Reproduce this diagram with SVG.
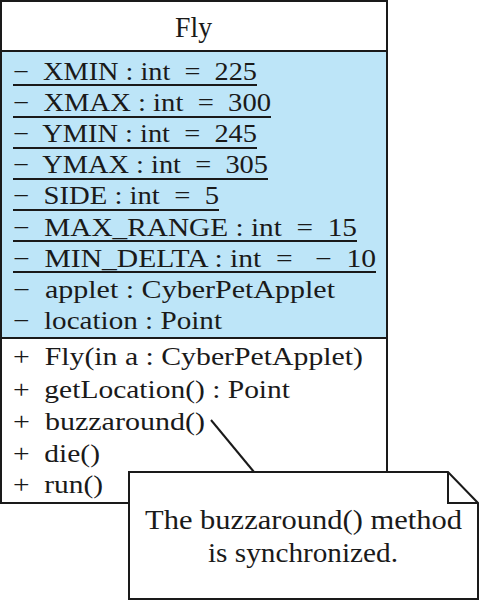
<svg xmlns="http://www.w3.org/2000/svg" width="480" height="600" viewBox="0 0 480 600">
<style>
text{font-family:"Liberation Serif","Times New Roman",serif;font-size:25px;fill:#1a1a1a;white-space:pre;}
text.title{font-size:29px;}
text.note{font-size:28px;}
.ul{stroke:#1a1a1a;stroke-width:2;}
.bx{stroke:#1a1a1a;stroke-width:2;}
</style>
<rect width="480" height="600" fill="#ffffff"/>
<g id="class-Fly">
<rect x="1" y="1" width="386" height="502" fill="#ffffff" class="bx"/>
<rect x="1" y="51" width="386" height="287" fill="#bde5f8" class="bx"/>
<text class="title" x="175" y="37" textLength="37" lengthAdjust="spacingAndGlyphs">Fly</text>
<text xml:space="preserve" x="13" y="80" textLength="244" lengthAdjust="spacingAndGlyphs">−  XMIN : int  =  225</text>
<text xml:space="preserve" x="13" y="111" textLength="258" lengthAdjust="spacingAndGlyphs">−  XMAX : int  =  300</text>
<text xml:space="preserve" x="13" y="142" textLength="244" lengthAdjust="spacingAndGlyphs">−  YMIN : int  =  245</text>
<text xml:space="preserve" x="13" y="173" textLength="255" lengthAdjust="spacingAndGlyphs">−  YMAX : int  =  305</text>
<text xml:space="preserve" x="13" y="204" textLength="206" lengthAdjust="spacingAndGlyphs">−  SIDE : int  =  5</text>
<text xml:space="preserve" x="13" y="236" textLength="344" lengthAdjust="spacingAndGlyphs">−  MAX_RANGE : int  =  15</text>
<text xml:space="preserve" x="13" y="267" textLength="363" lengthAdjust="spacingAndGlyphs">−  MIN_DELTA : int  =   −  10</text>
<text xml:space="preserve" x="13" y="298" textLength="322" lengthAdjust="spacingAndGlyphs">−  applet : CyberPetApplet</text>
<text xml:space="preserve" x="13" y="329" textLength="209" lengthAdjust="spacingAndGlyphs">−  location : Point</text>
<text xml:space="preserve" x="13" y="365" textLength="350" lengthAdjust="spacingAndGlyphs">+  Fly(in a : CyberPetApplet)</text>
<text xml:space="preserve" x="13" y="398" textLength="277" lengthAdjust="spacingAndGlyphs">+  getLocation() : Point</text>
<text xml:space="preserve" x="13" y="430" textLength="192" lengthAdjust="spacingAndGlyphs">+  buzzaround()</text>
<text xml:space="preserve" x="13" y="462" textLength="87" lengthAdjust="spacingAndGlyphs">+  die()</text>
<text xml:space="preserve" x="13" y="493" textLength="90" lengthAdjust="spacingAndGlyphs">+  run()</text>
<line class="ul" x1="13" y1="85" x2="257" y2="85"/>
<line class="ul" x1="13" y1="117" x2="271" y2="117"/>
<line class="ul" x1="13" y1="148" x2="257" y2="148"/>
<line class="ul" x1="13" y1="179" x2="268" y2="179"/>
<line class="ul" x1="13" y1="210" x2="219" y2="210"/>
<line class="ul" x1="13" y1="241" x2="357" y2="241"/>
<line class="ul" x1="13" y1="272" x2="376" y2="272"/>
</g>
<g id="connectors">
<line x1="211" y1="420" x2="254" y2="472" class="bx"/>
</g>
<g id="note">
<path d="M129,472 H448 L478,503 V599 H129 Z" fill="#ffffff" class="bx"/>
<path d="M448,472 V503 H478" fill="none" class="bx"/>
<text class="note" x="145" y="529" textLength="317" lengthAdjust="spacingAndGlyphs">The buzzaround() method</text>
<text class="note" x="208" y="562" textLength="190" lengthAdjust="spacingAndGlyphs">is synchronized.</text>
</g>
</svg>
